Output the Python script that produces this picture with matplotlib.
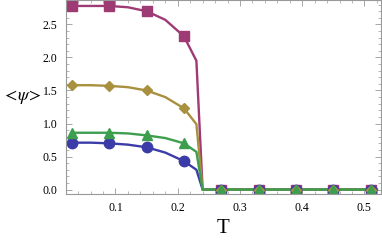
import matplotlib
matplotlib.use('Agg')
import matplotlib.pyplot as plt
from matplotlib.ticker import MultipleLocator, FormatStrFormatter

# marker temperatures and values
T_pts = [0.03, 0.09, 0.15, 0.21, 0.27, 0.33, 0.39, 0.45, 0.51]
purple_pts = [2.78, 2.78, 2.70, 2.32, 0, 0, 0, 0, 0]
gold_pts = [1.58, 1.57, 1.50, 1.23, 0, 0, 0, 0, 0]
green_pts = [0.86, 0.86, 0.82, 0.70, 0, 0, 0, 0, 0]
blue_pts = [0.71, 0.71, 0.64, 0.43, 0, 0, 0, 0, 0]

# curve samples
T_line = [0.03, 0.06, 0.09, 0.12, 0.15, 0.18, 0.21, 0.23, 0.24, 0.52]
purple_line = [2.78, 2.78, 2.78, 2.76, 2.70, 2.57, 2.32, 1.95, 0, 0]
gold_line = [1.58, 1.58, 1.57, 1.55, 1.50, 1.40, 1.23, 0.99, 0, 0]
green_line = [0.86, 0.86, 0.86, 0.85, 0.82, 0.78, 0.70, 0.57, 0, 0]
blue_line = [0.71, 0.71, 0.70, 0.68, 0.64, 0.56, 0.43, 0.30, 0, 0]

c_purple = '#9e3a74'
c_gold = '#a8903e'
c_green = '#3d9e4e'
c_blue = '#3c3ca8'

plt.rcParams['font.family'] = ['Liberation Serif', 'DejaVu Serif']
plt.rcParams['mathtext.fontset'] = 'stix'

fig = plt.figure(figsize=(3.82, 2.41), dpi=100)
ax = fig.add_axes([0.172, 0.197, 0.826, 0.803])

ax.plot(T_line, purple_line, color=c_purple, lw=1.7)
ax.plot(T_line, blue_line, color=c_blue, lw=1.7)
ax.plot(T_line, gold_line, color=c_gold, lw=1.7)
ax.plot(T_line, green_line, color=c_green, lw=1.7)
ax.plot(T_pts, purple_pts, 's', color=c_purple, ms=6.5)
ax.plot(T_pts, blue_pts, 'o', color=c_blue, ms=7.5)
ax.plot(T_pts, gold_pts, 'D', color=c_gold, ms=5.5)
ax.plot(T_pts, green_pts, '^', color=c_green, ms=7)

ax.set_xlim(0.02, 0.527)
ax.set_ylim(-0.06, 2.87)
ax.xaxis.set_major_locator(MultipleLocator(0.1))
ax.xaxis.set_minor_locator(MultipleLocator(0.02))
ax.yaxis.set_major_locator(MultipleLocator(0.5))
ax.yaxis.set_minor_locator(MultipleLocator(0.1))
ax.xaxis.set_major_formatter(FormatStrFormatter('%.1f'))
ax.yaxis.set_major_formatter(FormatStrFormatter('%.1f'))

ax.tick_params(which='both', direction='in', top=True, right=True, color='#999999', labelsize=8.5, pad=6)
ax.tick_params(which='major', length=4.5, width=0.6)
ax.tick_params(which='minor', length=2.5, width=0.5)
for s in ax.spines.values():
    s.set_color('#999999')
    s.set_linewidth(0.8)

ax.set_xlabel('T', fontsize=15, labelpad=4)
ax.set_ylabel(r'$<\!\psi\!>$', fontsize=13, rotation=0, va='center')
ax.yaxis.set_label_coords(-0.14, 0.5)

fig.savefig('out.png', dpi=100)
